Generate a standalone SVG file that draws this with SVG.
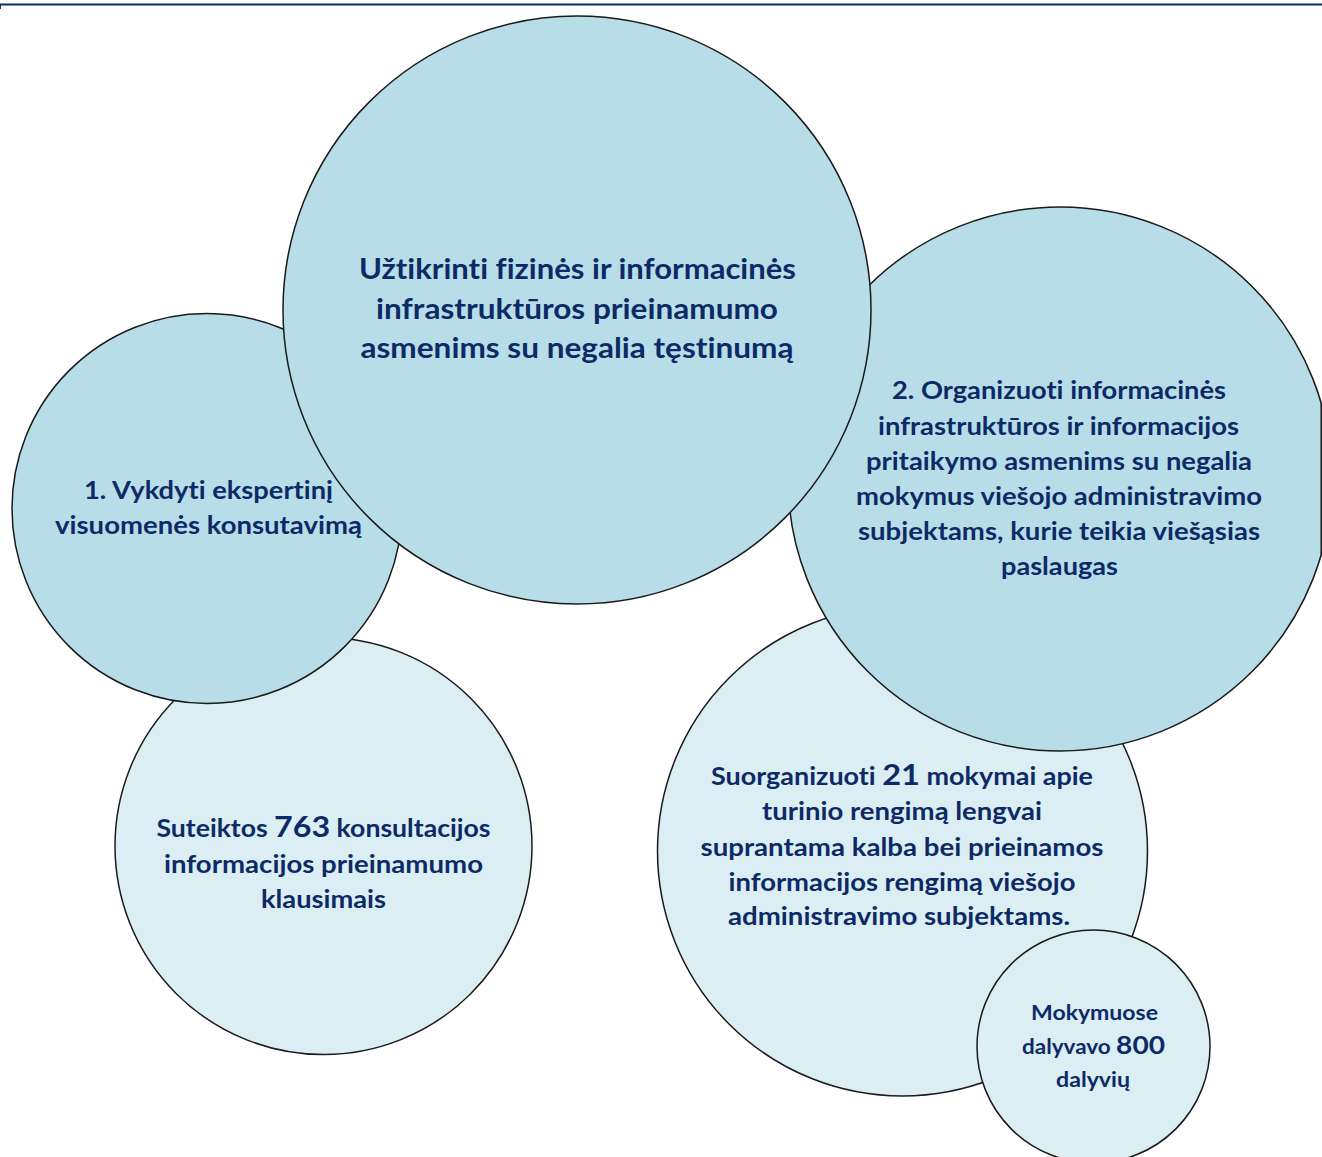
<svg xmlns="http://www.w3.org/2000/svg" width="1322" height="1157" viewBox="0 0 1322 1157">
<style>
  .dark { fill: #b7dde8; stroke: #1a1a1a; stroke-width: 1.5; }
  .light { fill: #daeef3; stroke: #1a1a1a; stroke-width: 1.5; }
  text { font-family: "Lato", "Open Sans", "Noto Sans", sans-serif; font-weight: bold; fill: #0e2a66; text-anchor: middle; font-variant-ligatures: none; font-feature-settings: "liga" 0; }
  .t28 { font-size: 28px; }
  .t24 { font-size: 24px; }
  .t20 { font-size: 20px; }
  .big { font-size: 29px; }
  .big2 { font-size: 25px; }
</style>
<rect x="0" y="0" width="1322" height="1157" fill="#ffffff"/>
<g id="frame">
  <line x1="0" y1="4.5" x2="1322" y2="4.5" stroke="#0b2a6b" stroke-width="2"/>
  <line x1="0.5" y1="4" x2="0.5" y2="9" stroke="#0b2a6b" stroke-width="1"/>
</g>
<g id="connectors"></g>
<g id="result-consultations">
  <circle class="light" cx="323.5" cy="846" r="208.5"/>
  <text class="t24" x="323.5" y="837" textLength="334" lengthAdjust="spacingAndGlyphs">Suteiktos <tspan class="big">763</tspan> konsultacijos</text>
  <text class="t24" x="323.5" y="873" textLength="319" lengthAdjust="spacingAndGlyphs">informacijos prieinamumo</text>
  <text class="t24" x="323.5" y="908" textLength="125" lengthAdjust="spacingAndGlyphs">klausimais</text>
</g>
<g id="result-trainings">
  <circle class="light" cx="902.5" cy="851" r="245"/>
  <text class="t24" x="902" y="785" textLength="382" lengthAdjust="spacingAndGlyphs">Suorganizuoti <tspan class="big">21</tspan> mokymai apie</text>
  <text class="t24" x="902" y="820" textLength="280" lengthAdjust="spacingAndGlyphs">turinio rengimą lengvai</text>
  <text class="t24" x="902" y="856" textLength="403" lengthAdjust="spacingAndGlyphs">suprantama kalba bei prieinamos</text>
  <text class="t24" x="902" y="891" textLength="347" lengthAdjust="spacingAndGlyphs">informacijos rengimą viešojo</text>
  <text class="t24" x="899" y="925" textLength="342" lengthAdjust="spacingAndGlyphs">administravimo subjektams.</text>
</g>
<g id="result-participants">
  <circle class="light" cx="1093.5" cy="1046.5" r="116.5"/>
  <text class="t20" x="1094.5" y="1020" textLength="127" lengthAdjust="spacingAndGlyphs">Mokymuose</text>
  <text class="t20" x="1093.5" y="1054" textLength="143" lengthAdjust="spacingAndGlyphs">dalyvavo <tspan class="big2">800</tspan></text>
  <text class="t20" x="1093" y="1087" textLength="74" lengthAdjust="spacingAndGlyphs">dalyvių</text>
</g>
<g id="task-1">
  <circle class="dark" cx="207" cy="508.5" r="195"/>
  <text class="t24" x="208.5" y="499" textLength="249" lengthAdjust="spacingAndGlyphs">1. Vykdyti ekspertinį</text>
  <text class="t24" x="208.5" y="534" textLength="307" lengthAdjust="spacingAndGlyphs">visuomenės konsutavimą</text>
</g>
<g id="task-2">
  <circle class="dark" cx="1060" cy="479" r="272"/>
  <line x1="1321.2" y1="404" x2="1321.2" y2="554" stroke="#1a1a1a" stroke-width="1.5"/>
  <text class="t24" x="1059" y="399" textLength="334" lengthAdjust="spacingAndGlyphs">2. Organizuoti informacinės</text>
  <text class="t24" x="1058.5" y="435" textLength="361" lengthAdjust="spacingAndGlyphs">infrastruktūros ir informacijos</text>
  <text class="t24" x="1059" y="470" textLength="386" lengthAdjust="spacingAndGlyphs">pritaikymo asmenims su negalia</text>
  <text class="t24" x="1059" y="505" textLength="406" lengthAdjust="spacingAndGlyphs">mokymus viešojo administravimo</text>
  <text class="t24" x="1059" y="540" textLength="402" lengthAdjust="spacingAndGlyphs">subjektams, kurie teikia viešąsias</text>
  <text class="t24" x="1059.5" y="575" textLength="117" lengthAdjust="spacingAndGlyphs">paslaugas</text>
</g>
<g id="goal">
  <circle class="dark" cx="577" cy="310" r="294"/>
  <text class="t28" x="577.5" y="279" textLength="437" lengthAdjust="spacingAndGlyphs">Užtikrinti fizinės ir informacinės</text>
  <text class="t28" x="577" y="319" textLength="402" lengthAdjust="spacingAndGlyphs">infrastruktūros prieinamumo</text>
  <text class="t28" x="577" y="358" textLength="433" lengthAdjust="spacingAndGlyphs">asmenims su negalia tęstinumą</text>
</g>
</svg>
